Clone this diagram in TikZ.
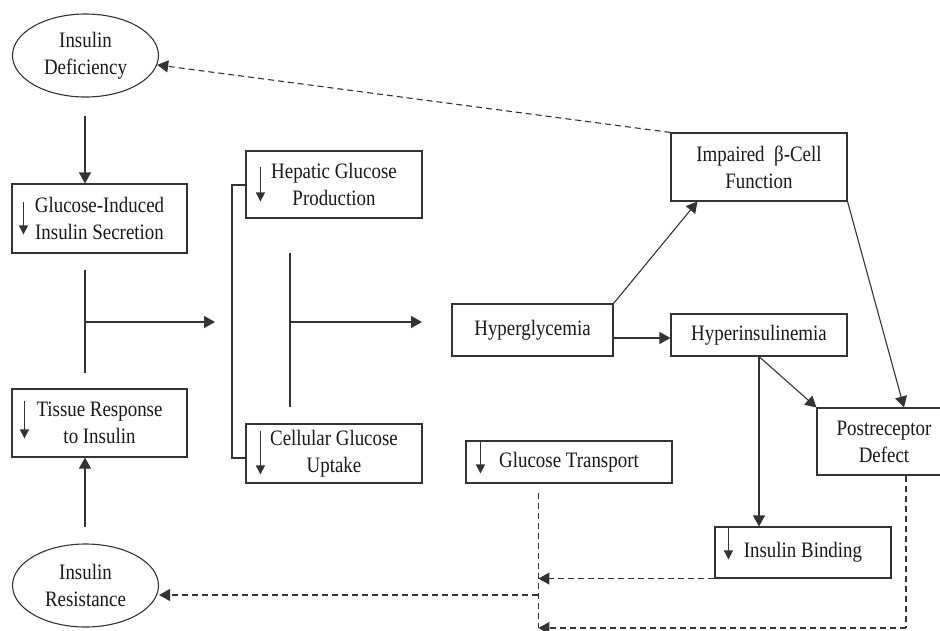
\documentclass[tikz,border=0pt]{standalone}
\usepackage{fontspec}
\setmainfont[FakeStretch=0.86]{Liberation Serif}
\usetikzlibrary{arrows.meta,calc,shapes.geometric}
\begin{document}
\begin{tikzpicture}[x=1pt,y=-1pt,
  every node/.style={font=\fontsize{22}{27}\selectfont, text=black!90, align=center, inner sep=0pt},
  bx/.style={draw=black!80, line width=1.1pt, rectangle},
  el/.style={draw=black!80, line width=1.1pt, ellipse},
  ln/.style={draw=black!80, line width=1.1pt},
  arr/.style={ln, -{Triangle[length=11pt,width=12pt]}},
  darr/.style={ln, dash pattern=on 6pt off 4pt, -{Triangle[length=11pt,width=12pt]}},
  dln/.style={ln, dash pattern=on 6pt off 4pt},
  dn/.style={ln, -{Triangle[length=9pt,width=9pt]}}
]
\useasboundingbox (0,0) rectangle (940,630);
\clip (0,0) rectangle (940,630);
\fill[white] (0,0) rectangle (940,630);

% ellipses
\node[el, minimum width=146pt, minimum height=83pt] (ide) at (85.5,55.5) {Insulin\\Deficiency};
\node[el, minimum width=146pt, minimum height=83pt] (ire) at (85.5,585.5) {Insulin\\Resistance};

% boxes
\node[bx, minimum width=175pt, minimum height=69pt] (gis) at (99.5,218.5) {Glucose-Induced\\Insulin Secretion};
\node[bx, minimum width=175pt, minimum height=68pt] (tri) at (99.5,423) {Tissue Response\\to Insulin};
\node[bx, minimum width=176pt, minimum height=67pt] (hep) at (334,184.5) {Hepatic Glucose\\Production};
\node[bx, minimum width=176pt, minimum height=59pt] (cgu) at (334,453.5) {Cellular Glucose\\Uptake};
\node[bx, minimum width=161pt, minimum height=52pt] (hyg) at (532.5,330) {Hyperglycemia};
\node[bx, minimum width=176pt, minimum height=68pt] (ibc) at (759,167) {Impaired\ \ β-Cell\\Function};
\node[bx, minimum width=176pt, minimum height=42pt] (hyi) at (759,335) {Hyperinsulinemia};
\node[bx, minimum width=134pt, minimum height=67pt] (prd) at (884,441.5) {Postreceptor\\Defect};
\node[bx, minimum width=206pt, minimum height=42pt] (gtr) at (569,462) {Glucose Transport};
\node[bx, minimum width=176pt, minimum height=51pt] (inb) at (803,552.5) {Insulin Binding};

% small down arrows inside boxes
\draw[dn] ($(gis.north west)+(12,19)$) -- ($(gis.north west)+(12,51)$);
\draw[dn] ($(tri.north west)+(13,13)$) -- ($(tri.north west)+(13,50)$);
\draw[dn] ($(hep.north west)+(15,17)$) -- ($(hep.north west)+(15,51)$);
\draw[dn] ($(cgu.north west)+(15,8)$) -- ($(cgu.north west)+(15,51)$);
\draw[dn] ($(gtr.north west)+(15,2)$) -- ($(gtr.north west)+(15,33)$);
\draw[dn] ($(inb.north west)+(14,0)$) -- ($(inb.north west)+(14,33)$);

% left column
\coordinate (a1) at (85,116);
\draw[arr] (a1) -- (a1 |- gis.north);
\coordinate (a2) at (85,527);
\draw[arr] (a2) -- (a2 |- tri.south);
\coordinate (v1t) at (85,270);
\coordinate (v1b) at (85,373);
\coordinate (j1) at (85,322);
\coordinate (j1e) at (215,322);
\draw[ln] (v1t) -- (v1b);
\draw[arr] (j1) -- (j1e);

% bracket
\coordinate (bk1) at (232,185);
\coordinate (bk2) at (232,458);
\draw[ln] (hep.west |- bk1) -- (bk1) -- (bk2) -- (cgu.west |- bk2);
\coordinate (v2t) at (290,253);
\coordinate (v2b) at (290,407);
\coordinate (j2) at (290,322);
\coordinate (j2e) at (422,322);
\draw[ln] (v2t) -- (v2b);
\draw[arr] (j2) -- (j2e);

% right part
\draw[arr] (hyg.north east) -- ($(ibc.south west)+(27,0)$);
\coordinate (h1) at ($(hyg.east)+(0,8)$);
\draw[arr] (h1) -- (h1 -| hyi.west);
\draw[arr] (ibc.south east) -- ($(prd.north)+(20,0)$);
\draw[arr] (hyi.south) -- (prd.north west);
\draw[arr] (hyi.south) -- (hyi.south |- inb.north);

% dashed
\draw[darr] (ibc.north west) -- (ide);
\coordinate (dv) at ($(gtr.south west)+(73,9)$);
\coordinate (dvb) at (dv |- 0,628);
\draw[dln] (dv) -- (dvb);
\draw[darr] (inb.south west) -- (dv |- inb.south west);
\coordinate (dr) at (dv |- 0,595);
\draw[darr] (dr) -- (ire.east |- dr);
\coordinate (pv) at ($(prd.south)+(22,0)$);
\draw[dln] (pv) -- (pv |- dvb);
\draw[darr] (pv |- dvb) -- (dvb);
\end{tikzpicture}
\end{document}
